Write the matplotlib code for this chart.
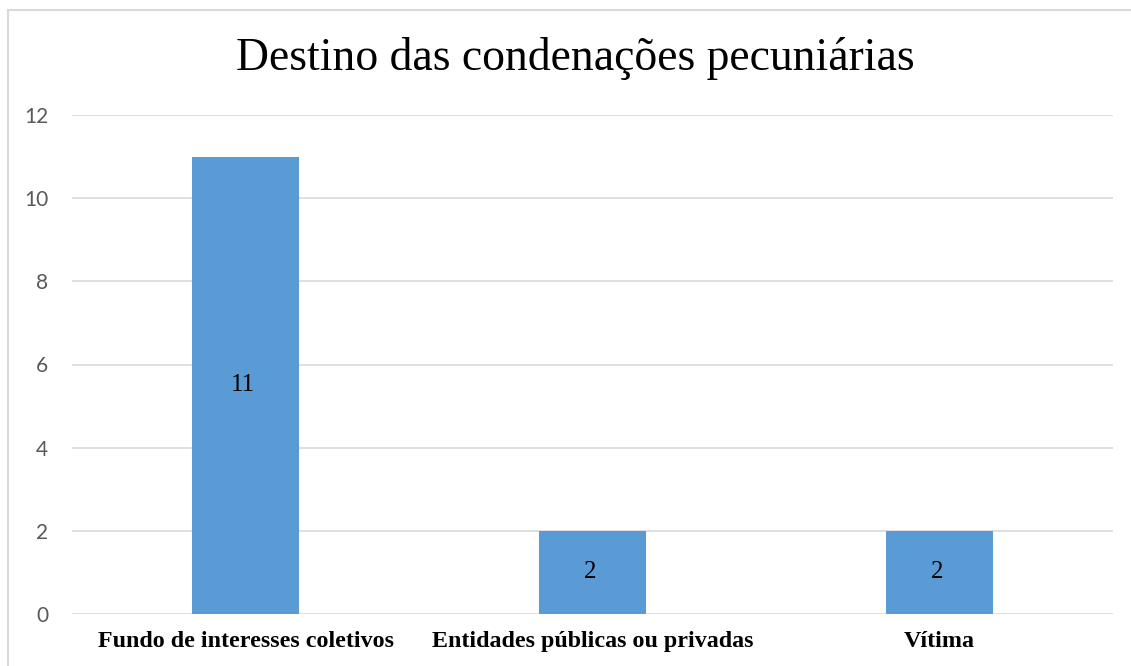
import matplotlib.pyplot as plt
from matplotlib.patches import Rectangle

# data
categories = ['Fundo de interesses coletivos', 'Entidades públicas ou privadas', 'Vítima']
values = [11, 2, 2]
yticks = [0, 2, 4, 6, 8, 10, 12]

BAR_COLOR = '#5B9BD5'
GRID_COLOR = '#D9D9D9'

fig = plt.figure(figsize=(11.31, 6.66), dpi=100)

# light frame around the chart (bottom/right run off the picture)
fig.patches.append(Rectangle((8 / 1131, -0.1), 1.2, 1 - 10 / 666 + 0.1,
                             transform=fig.transFigure, fill=False,
                             edgecolor='#D9D9D9', linewidth=1.5))

ax = fig.add_axes([72 / 1131, 52 / 666, (1113 - 72) / 1131, (614 - 115) / 666])

x = list(range(len(categories)))
bars = ax.bar(x, values, width=0.31, color=BAR_COLOR, zorder=2)

for b, v in zip(bars, values):
    ax.text(b.get_x() + b.get_width() / 2 - 0.008, v / 2, str(v),
            ha='center', va='center', family='Liberation Serif',
            fontsize=18, color='black', zorder=3)

ax.set_xlim(-0.5, len(categories) - 0.5)
ax.set_ylim(0, 12)
ax.set_yticks(yticks)
ax.set_yticklabels([str(t) for t in yticks], family='Lato', fontsize=15, color='#595959')
ax.set_xticks(x)
ax.set_xticklabels(categories, family='Liberation Serif', fontweight='bold', fontsize=17.3)

ax.grid(axis='y', color=GRID_COLOR, linewidth=1.2, zorder=0)
ax.tick_params(axis='both', length=0)
ax.tick_params(axis='y', pad=17)
ax.tick_params(axis='x', pad=12)
for s in ax.spines.values():
    s.set_visible(False)

fig.text(575 / 1131, 1 - 58 / 666, 'Destino das condenações pecuniárias',
         ha='center', va='center', family='Liberation Serif', fontsize=32.9)

fig.savefig('out.png', dpi=100)
